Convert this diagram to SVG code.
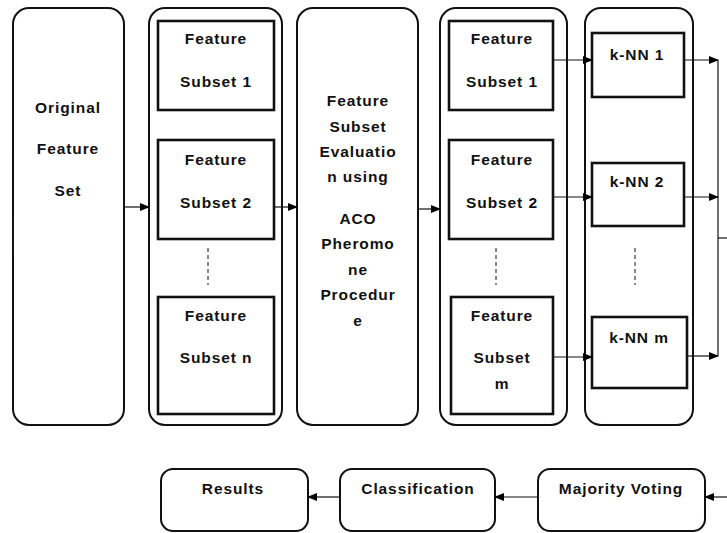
<svg xmlns="http://www.w3.org/2000/svg" width="727" height="533" viewBox="0 0 727 533">
<defs>
<marker id="ah" markerWidth="10" markerHeight="8" refX="9" refY="4" orient="auto" markerUnits="userSpaceOnUse">
<path d="M0,0 L10,4 L0,8 Z" fill="#000"/>
</marker>
<style>
.col{fill:#fff;stroke:#111;stroke-width:2}
.box{fill:#fff;stroke:#111;stroke-width:2.6}
.t{font-family:"Liberation Sans",Arial,sans-serif;font-weight:bold;font-size:15.5px;letter-spacing:0.9px;fill:#111;text-anchor:middle}
.c{stroke:#111;stroke-width:1.2;fill:none}
.a{stroke:#111;stroke-width:1.2;fill:none;marker-end:url(#ah)}
.d{stroke:#111;stroke-width:1;stroke-dasharray:4,3;fill:none}
</style>
</defs>
<rect width="727" height="533" fill="#fff"/>
<g id="original">
<rect class="col" x="13" y="8" width="111" height="417" rx="16"/>
<text class="t" x="68" y="113">Original</text>
<text class="t" x="68" y="154">Feature</text>
<text class="t" x="68" y="196">Set</text>
</g>
<g id="subsets1">
<rect class="col" x="149" y="8" width="133" height="417" rx="16"/>
<g id="fs1a"><rect class="box" x="158" y="21" width="116" height="89"/>
<text class="t" x="216" y="44">Feature</text><text class="t" x="216" y="87">Subset 1</text></g>
<g id="fs1b"><rect class="box" x="158" y="140" width="116" height="99"/>
<text class="t" x="216" y="165">Feature</text><text class="t" x="216" y="208">Subset 2</text></g>
<g id="fs1n"><rect class="box" x="158" y="297" width="116" height="117"/>
<text class="t" x="216" y="321">Feature</text><text class="t" x="216" y="363">Subset n</text></g>
<line class="d" x1="208" y1="248" x2="208" y2="285"/>
</g>
<g id="aco">
<rect class="col" x="297" y="8" width="121" height="417" rx="16"/>
<text class="t" x="358" y="106">Feature</text>
<text class="t" x="358" y="132">Subset</text>
<text class="t" x="358" y="157">Evaluatio</text>
<text class="t" x="358" y="182">n using</text>
<text class="t" x="358" y="224">ACO</text>
<text class="t" x="358" y="249">Pheromo</text>
<text class="t" x="358" y="275">ne</text>
<text class="t" x="358" y="300">Procedur</text>
<text class="t" x="358" y="326">e</text>
</g>
<g id="subsets2">
<rect class="col" x="440" y="8" width="127" height="417" rx="16"/>
<g id="fs2a"><rect class="box" x="449" y="21" width="104" height="89"/>
<text class="t" x="502" y="44">Feature</text><text class="t" x="502" y="87">Subset 1</text></g>
<g id="fs2b"><rect class="box" x="449" y="140" width="104" height="99"/>
<text class="t" x="502" y="165">Feature</text><text class="t" x="502" y="208">Subset 2</text></g>
<g id="fs2m"><rect class="box" x="451" y="297" width="102" height="117"/>
<text class="t" x="502" y="321">Feature</text><text class="t" x="502" y="363">Subset</text><text class="t" x="502" y="389">m</text></g>
<line class="d" x1="496" y1="248" x2="496" y2="285"/>
</g>
<g id="knn">
<rect class="col" x="585" y="8" width="108" height="417" rx="16"/>
<g id="knn1"><rect class="box" x="592" y="33" width="92" height="64"/>
<text class="t" x="637" y="60">k-NN 1</text></g>
<g id="knn2"><rect class="box" x="592" y="163" width="92" height="63"/>
<text class="t" x="637" y="187">k-NN 2</text></g>
<g id="knnm"><rect class="box" x="592" y="317" width="95" height="71"/>
<text class="t" x="639" y="343">k-NN m</text></g>
<line class="d" x1="635" y1="248" x2="635" y2="285"/>
</g>
<g id="results">
<rect class="col" x="161" y="469" width="147" height="62" rx="12"/>
<text class="t" x="233" y="494">Results</text>
</g>
<g id="classification">
<rect class="col" x="340" y="469" width="155" height="62" rx="12"/>
<text class="t" x="418" y="494">Classification</text>
</g>
<g id="majority">
<rect class="col" x="538" y="469" width="167" height="62" rx="12"/>
<text class="t" x="621" y="494">Majority Voting</text>
</g>
<g id="connectors">
<line class="a" x1="124" y1="207" x2="149" y2="207"/>
<line class="a" x1="274" y1="207" x2="297" y2="207"/>
<line class="a" x1="418" y1="209" x2="440" y2="209"/>
<line class="a" x1="553" y1="60" x2="592" y2="60"/>
<line class="a" x1="553" y1="197" x2="592" y2="197"/>
<line class="a" x1="553" y1="357" x2="592" y2="357"/>
<line class="a" x1="684" y1="60" x2="718" y2="60"/>
<line class="a" x1="684" y1="197" x2="718" y2="197"/>
<line class="a" x1="687" y1="356" x2="718" y2="356"/>
<line class="c" x1="718" y1="60" x2="718" y2="356"/>
<line class="c" x1="718" y1="238" x2="727" y2="238"/>
<line class="a" x1="727" y1="497" x2="705" y2="497"/>
<line class="a" x1="538" y1="497" x2="495" y2="497"/>
<line class="a" x1="340" y1="497" x2="308" y2="497"/>
</g>
</svg>
